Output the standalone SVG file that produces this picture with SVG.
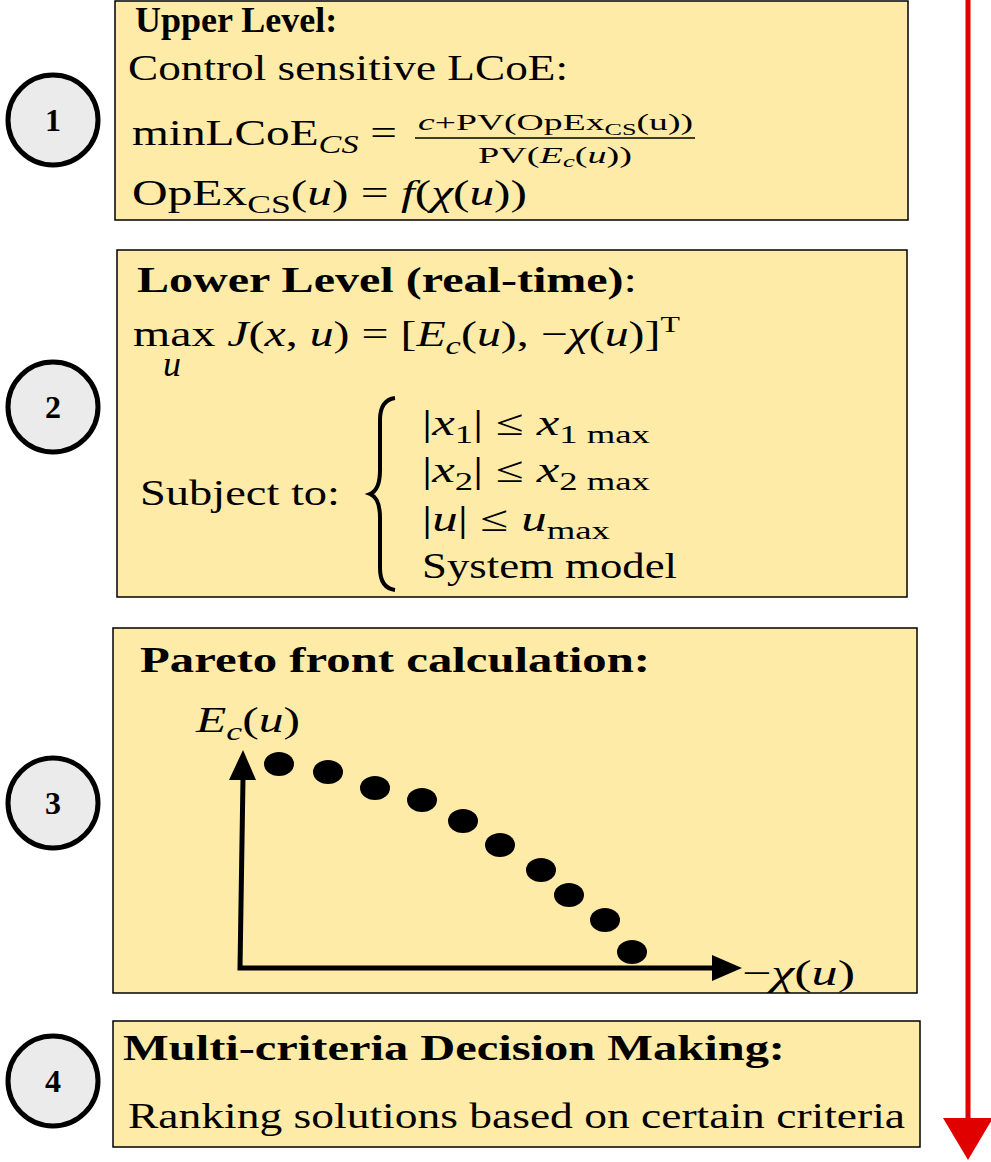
<svg xmlns="http://www.w3.org/2000/svg" width="991" height="1162" viewBox="0 0 991 1162">
<style>
.box{fill:#FFEBA8;stroke:#000;stroke-width:1.5}
.c{fill:#EBEBEB;stroke:#000;stroke-width:5}
.n{font-family:"Liberation Serif",serif;font-size:32px;font-weight:bold;text-anchor:middle}
.t{font-family:"Liberation Serif",serif;font-size:36px}
.h{font-family:"Liberation Serif",serif;font-size:36px;font-weight:bold}
.s{font-family:"Liberation Serif",serif;font-size:23px}
.i{font-style:italic}
</style>
<rect width="991" height="1162" fill="#fff"/>
<g id="step1">
<rect class="box" x="115" y="1" width="793" height="219"/>
<circle class="c" cx="53" cy="120" r="45"/><text class="n" x="53" y="131">1</text>
<text class="h" x="135" y="32" font-size="33">Upper Level:</text>
<text class="t" x="128" y="80" textLength="440" lengthAdjust="spacingAndGlyphs">Control sensitive LCoE:</text>
<text class="t" x="132" y="145" textLength="265" lengthAdjust="spacingAndGlyphs">minLCoE<tspan class="i" font-size="26" dy="8">CS</tspan><tspan dy="-8"> =</tspan></text>
<text class="s" x="418" y="130" textLength="275" lengthAdjust="spacingAndGlyphs"><tspan class="i">c</tspan>+PV(OpEx<tspan font-size="16" dy="5">CS</tspan><tspan dy="-5">(u))</tspan></text>
<line x1="415" y1="138" x2="695" y2="138" stroke="#000" stroke-width="1.5"/>
<text class="s" x="478" y="163" textLength="154" lengthAdjust="spacingAndGlyphs">PV(<tspan class="i">E</tspan><tspan class="i" font-size="16" dy="4">c</tspan><tspan dy="-4">(</tspan><tspan class="i">u</tspan>))</text>
<text class="t" x="132" y="205" textLength="395" lengthAdjust="spacingAndGlyphs">OpEx<tspan font-size="26" dy="8">CS</tspan><tspan dy="-8">(</tspan><tspan class="i">u</tspan>) = <tspan class="i">f</tspan>(<tspan class="i">χ</tspan>(<tspan class="i">u</tspan>))</text>
</g>
<g id="step2">
<rect class="box" x="117" y="250" width="790" height="347"/>
<circle class="c" cx="53" cy="407" r="45"/><text class="n" x="53" y="418">2</text>
<text class="h" x="137" y="292" textLength="500" lengthAdjust="spacingAndGlyphs">Lower Level (real-time)<tspan font-weight="normal">:</tspan></text>
<text class="t" x="133" y="346" textLength="547" lengthAdjust="spacingAndGlyphs">max <tspan class="i">J</tspan>(<tspan class="i">x</tspan>, <tspan class="i">u</tspan>) = [<tspan class="i">E</tspan><tspan class="i" font-size="26" dy="8">c</tspan><tspan dy="-8">(</tspan><tspan class="i">u</tspan>), −<tspan class="i">χ</tspan>(<tspan class="i">u</tspan>)]<tspan font-size="24" dy="-14">T</tspan></text>
<text class="t i" x="163" y="376" font-size="24">u</text>
<text class="t" x="140" y="505" textLength="200" lengthAdjust="spacingAndGlyphs">Subject to:</text>
<path d="M395 398 Q380 400 380 420 L380 470 Q380 490 370 494 Q380 498 380 518 L380 568 Q380 588 395 590" fill="none" stroke="#000" stroke-width="4"/>
<text class="t" x="422" y="435" textLength="228" lengthAdjust="spacingAndGlyphs">|<tspan class="i">x</tspan><tspan font-size="26" dy="8">1</tspan><tspan dy="-8">| ≤ </tspan><tspan class="i">x</tspan><tspan font-size="26" dy="8">1 max</tspan></text>
<text class="t" x="422" y="482" textLength="228" lengthAdjust="spacingAndGlyphs">|<tspan class="i">x</tspan><tspan font-size="26" dy="8">2</tspan><tspan dy="-8">| ≤ </tspan><tspan class="i">x</tspan><tspan font-size="26" dy="8">2 max</tspan></text>
<text class="t" x="422" y="531" textLength="188" lengthAdjust="spacingAndGlyphs">|<tspan class="i">u</tspan>| ≤ <tspan class="i">u</tspan><tspan font-size="26" dy="8">max</tspan></text>
<text class="t" x="422" y="578" textLength="255" lengthAdjust="spacingAndGlyphs">System model</text>
</g>
<g id="step3">
<rect class="box" x="113" y="628" width="804" height="365"/>
<circle class="c" cx="53" cy="803" r="45"/><text class="n" x="53" y="814">3</text>
<text class="h" x="140" y="672" textLength="510" lengthAdjust="spacingAndGlyphs">Pareto front calculation:</text>
<text class="t" x="196" y="732" textLength="104" lengthAdjust="spacingAndGlyphs"><tspan class="i">E</tspan><tspan class="i" font-size="26" dy="8">c</tspan><tspan dy="-8">(</tspan><tspan class="i">u</tspan>)</text>
<text class="t" x="742" y="985" textLength="113" lengthAdjust="spacingAndGlyphs">−<tspan class="i">χ</tspan>(<tspan class="i">u</tspan>)</text>
<g fill="#000">
<ellipse cx="279" cy="764" rx="15" ry="12"/><ellipse cx="328" cy="772" rx="15" ry="12"/><ellipse cx="375" cy="788" rx="15" ry="12"/><ellipse cx="422" cy="800" rx="15" ry="12"/><ellipse cx="463" cy="821" rx="15" ry="12"/><ellipse cx="500" cy="845" rx="15" ry="12"/><ellipse cx="541" cy="870" rx="15" ry="12"/><ellipse cx="569" cy="895" rx="15" ry="12"/><ellipse cx="605" cy="920" rx="15" ry="12"/><ellipse cx="632" cy="952" rx="15" ry="12"/>
</g>
</g>
<g id="step4">
<rect class="box" x="113" y="1021" width="807" height="126"/>
<circle class="c" cx="53" cy="1081" r="45"/><text class="n" x="53" y="1092">4</text>
<text class="h" x="123" y="1060" textLength="662" lengthAdjust="spacingAndGlyphs">Multi-criteria Decision Making:</text>
<text class="t" x="128" y="1128" textLength="777" lengthAdjust="spacingAndGlyphs">Ranking solutions based on certain criteria</text>
</g>
<g id="connectors">
<polyline points="243,778 240,968 715,968" fill="none" stroke="#000" stroke-width="5"/>
<polygon points="243,750 229,780 256,780" fill="#000"/>
<polygon points="742,968 712,955 712,981" fill="#000"/>
<line x1="968" y1="0" x2="968" y2="1125" stroke="#E00000" stroke-width="5"/>
<polygon points="968,1160 943,1118 993,1118" fill="#E00000"/>
</g>
</svg>
